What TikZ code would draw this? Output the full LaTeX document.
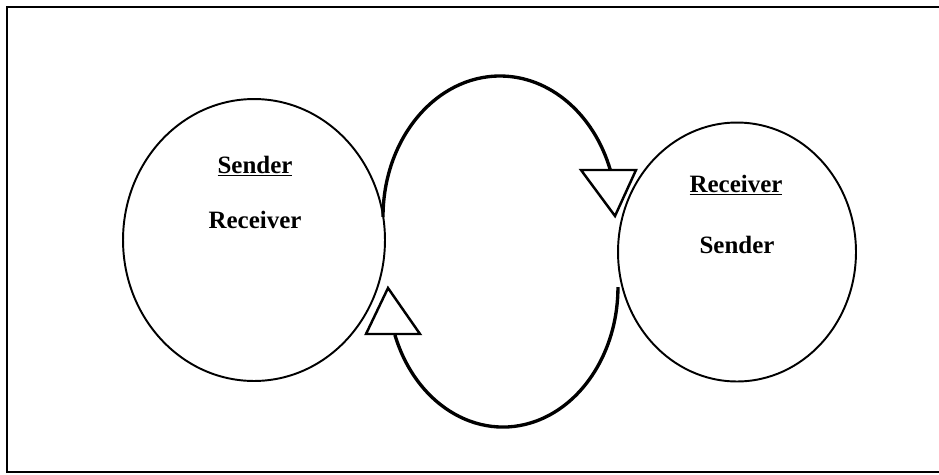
\documentclass[tikz,border=0pt]{standalone}
\usepackage{fontspec}
\setmainfont{Liberation Serif}
\usetikzlibrary{shapes.geometric}
\begin{document}
\begin{tikzpicture}[x=0.02cm,y=-0.02cm,
  party/.style={draw, ellipse, line width=1.1pt, inner sep=0pt},
  flow/.style={line width=1.9pt},
  head/.style={draw, fill=white, line width=1.4pt, line join=miter},
  lbl/.style={font=\fontsize{14.2pt}{17pt}\selectfont\bfseries, anchor=base, inner sep=0pt},
  frame/.style={line width=1.3pt}]
\useasboundingbox (0,0) rectangle (939,474);
\draw[frame] (939,7) -- (7,7) -- (7,472) -- (939,472);
\draw[line width=1.7pt] (7,7) -- (939,7);
\node[party, minimum width=5.24cm, minimum height=5.64cm] (L) at (254,240) {};
\node[party, minimum width=4.76cm, minimum height=5.18cm] (R) at (737,252) {};
\node[lbl] (ls) at (255,173) {\underline{Sender}};
\node[lbl] (lr) at (255,228) {Receiver};
\node[lbl] (rr) at (736,192) {\underline{Receiver}};
\node[lbl] (rs) at (737,253) {Sender};
\coordinate (t0) at (383,217);
\draw[flow] (t0) arc[start angle=180, end angle=340.5, x radius=117, y radius=141] coordinate (t1);
\draw[head] (581,170) -- (636,170) -- (615,216) -- cycle;
\coordinate (b0) at (394.9,334.9);
\draw[flow] (b0) arc[start angle=160, end angle=0, x radius=115, y radius=140] coordinate (b1);
\draw[head] (366,334) -- (420,334) -- (388,288) -- cycle;
\end{tikzpicture}
\end{document}
